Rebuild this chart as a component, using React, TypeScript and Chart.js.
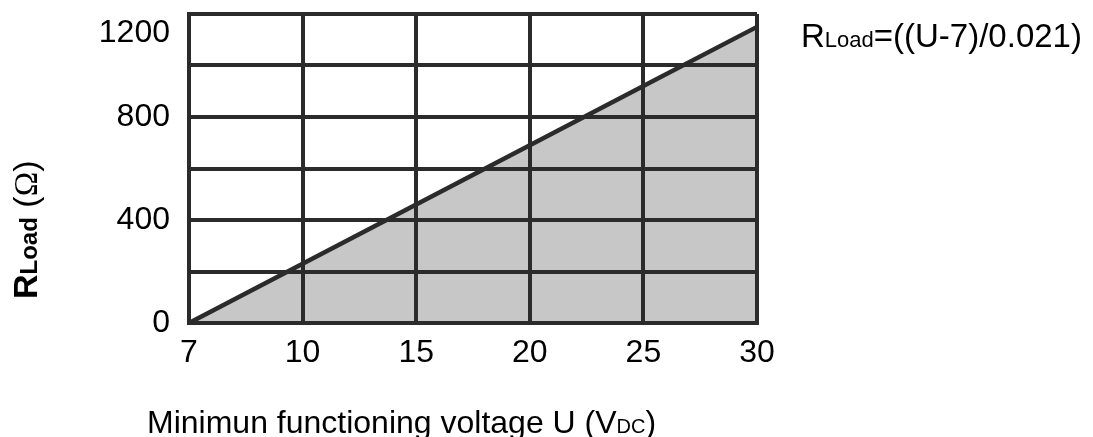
import React, { useEffect, useRef } from "react";
import { Chart, registerables } from "chart.js";

Chart.register(...registerables);

// ---- data ----
const voltageLabels: string[] = ["7", "10", "15", "20", "25", "30"];
const loadValues: number[] = [0, 230, 460, 690, 920, 1150];
const yTickLabels: number[] = [0, 400, 800, 1200];
const yMin = 0;
const yMax = 1200;
const yGridStep = 200;

const xTitleMain = "Minimun functioning voltage U (V";
const xTitleSub = "DC";
const xTitleEnd = ")";
const yTitleMain = "R";
const yTitleSub = "Load";
const formulaMain = "R";
const formulaSub = "Load";
const formulaRest = "=((U-7)/0.021)";

const INK = "#2b2b2b";
const FILL = "#c6c7c6";
const SANS = "'Liberation Sans', Arial, sans-serif";
const SERIF = "'Liberation Serif', 'Times New Roman', serif";

type Run = { text: string; font: string };

function drawRuns(ctx: CanvasRenderingContext2D, runs: Run[], x: number, y: number) {
  let cx = x;
  ctx.textAlign = "left";
  ctx.textBaseline = "alphabetic";
  for (const r of runs) {
    ctx.font = r.font;
    ctx.fillText(r.text, cx, y);
    cx += ctx.measureText(r.text).width;
  }
}

const titlesPlugin = {
  id: "richTitles",
  afterDraw(chart: any) {
    const ctx: CanvasRenderingContext2D = chart.ctx;
    ctx.save();
    ctx.fillStyle = "#000";
    // x title
    drawRuns(
      ctx,
      [
        { text: xTitleMain, font: `32px ${SANS}` },
        { text: xTitleSub, font: `20px ${SANS}` },
        { text: xTitleEnd, font: `32px ${SANS}` },
      ],
      147,
      433
    );
    // formula
    drawRuns(
      ctx,
      [
        { text: formulaMain, font: `33px ${SANS}` },
        { text: formulaSub, font: `22px ${SANS}` },
        { text: formulaRest, font: `33px ${SANS}` },
      ],
      801,
      47
    );
    // y title (rotated)
    ctx.save();
    ctx.translate(37, 299);
    ctx.rotate(-Math.PI / 2);
    drawRuns(
      ctx,
      [
        { text: yTitleMain, font: `bold 34px ${SANS}` },
        { text: yTitleSub, font: `bold 24px ${SANS}` },
        { text: " (", font: `34px ${SANS}` },
        { text: "\u03A9", font: `33px ${SERIF}` },
        { text: ")", font: `34px ${SANS}` },
      ],
      0,
      0
    );
    ctx.restore();
    ctx.restore();
  },
};

export default function App() {
  const ref = useRef<HTMLCanvasElement | null>(null);

  useEffect(() => {
    if (!ref.current) return;
    const chart = new Chart(ref.current, {
      type: "line",
      data: {
        labels: voltageLabels,
        datasets: [
          {
            data: loadValues,
            borderColor: INK,
            borderWidth: 4.5,
            backgroundColor: FILL,
            fill: "origin",
            pointRadius: 0,
            tension: 0,
            clip: 4,
          },
        ],
      },
      options: {
        animation: false,
        responsive: false,
        layout: { padding: { top: 14, right: 336, left: 0, bottom: 0 } },
        plugins: {
          legend: { display: false },
          tooltip: { enabled: false },
          title: { display: false },
        },
        scales: {
          x: {
            type: "category",
            offset: false,
            grid: { color: INK, lineWidth: 4, drawTicks: false, z: 1 },
            border: { display: true, color: INK, width: 4, z: 1 },
            ticks: {
              autoSkip: false,
              maxRotation: 0,
              padding: 11,
              color: "#000",
              font: { family: SANS, size: 32, lineHeight: 1.2 },
            },
            afterFit: (s: any) => {
              s.height = 114;
              s.paddingLeft = 0;
              s.paddingRight = 0;
            },
          },
          y: {
            type: "linear",
            min: yMin,
            max: yMax,
            grid: { color: INK, lineWidth: 4, drawTicks: false, z: 1 },
            border: { display: true, color: INK, width: 4, z: 1 },
            ticks: {
              stepSize: yGridStep,
              autoSkip: false,
              padding: 19,
              color: "#000",
              font: { family: SANS, size: 32, lineHeight: 1.2 },
              callback: (v: any) => {
                const n = Number(v);
                if (!yTickLabels.includes(n)) return "";
                return n === yMax ? ["", String(n)] : String(n);
              },
            },
            afterFit: (s: any) => {
              s.width = 189;
              s.paddingTop = 0;
              s.paddingBottom = 0;
            },
          },
        },
      },
      plugins: [titlesPlugin],
    });
    return () => chart.destroy();
  }, []);

  return (
    <div style={{ position: "fixed", left: 0, top: 0, width: 1093, height: 437, background: "#fff" }}>
      <canvas ref={ref} width={1093} height={437} />
    </div>
  );
}
